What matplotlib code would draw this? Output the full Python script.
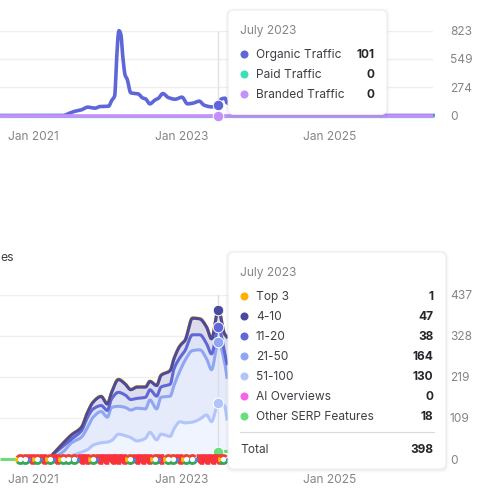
import numpy as np
import matplotlib
matplotlib.use("Agg")
import matplotlib.pyplot as plt
from matplotlib.patches import FancyBboxPatch
from matplotlib.path import Path

plt.rcParams['font.family'] = ['Inter', 'DejaVu Sans']

W, H = 483, 492
GRAY = '#858585'
DARK = '#3f3f46'
BLACK = '#26262b'

# ---- top chart data (months since Jan 2021)
traffic_months = [-5.4, 4.9, 5.7, 6.8, 7.8, 8.8, 10, 10.8, 12.2, 12.7, 13.2, 13.5, 13.8, 13.9, 14.2, 14.5, 14.9,
                  15.2, 15.8, 17, 17.7, 18.2, 18.9, 19.7, 20.3, 21, 21.9, 23, 24.1, 25, 25.9, 26.9, 27.7,
                  28.9, 30, 30.5, 31.1, 31.4, 36, 45, 55, 64.8]
organic = [0, 0, 19, 42, 55, 81, 71, 87, 90, 145, 194, 543, 801, 823, 785, 575, 388,
           355, 220, 210, 171, 161, 113, 149, 168, 213, 174, 158, 178, 113, 120, 139, 100,
           84, 101, 161, 168, 123, 90, 40, 0, 0]
flat_months = [-5.4, 64.8]
paid = [0, 0]
branded = [0, 0]
traffic_ticks = [0, 274, 549, 823]

# ---- bottom chart data (stack tops, as read)
rank_months = [3.2, 4.9, 6.2, 7.8, 8.8, 9.7, 11, 12, 12.7, 13.8, 14.9, 15.8, 16.8, 18.2, 18.9, 20, 20.7, 22.2,
               22.8, 23.8, 24.6, 25.8, 27, 28.1, 28.9, 30, 31, 31.4]
top3_top = [14, 44, 65, 85, 125, 152, 167, 147, 178, 212, 200, 185, 192, 192, 207, 196, 223, 236,
            267, 302, 316, 375, 373, 351, 320, 398, 333, 325]
r4_10_top = [13, 43, 64, 84, 124, 151, 166, 146, 177, 211, 199, 184, 191, 191, 206, 195, 222, 235,
             266, 301, 315, 374, 372, 350, 319, 397, 332, 324]
r11_20_top = [12, 35, 53, 75, 111, 133, 142, 129, 160, 177, 170, 158, 161, 164, 184, 167, 191, 199,
              239, 270, 288, 330, 330, 306, 279, 350, 284, 253]
r21_50_top = [2, 20, 43, 58, 84, 111, 126, 111, 137, 140, 137, 130, 135, 133, 157, 133, 164, 167,
              195, 235, 262, 288, 290, 266, 237, 312, 257, 217]
r51_100_top = [0, 2, 9, 18, 25, 37, 43, 45, 49, 66, 62, 57, 48, 55, 71, 51, 66, 60,
               80, 99, 96, 98, 106, 117, 99, 148, 142, 106]
other_top = [0, 0, 0, 0, 0, 0, 0, 0, 0, 0, 0, 0, 0, 0, 0, 0, 0, 0,
             0, 0, 0, 0, 0, 0, 0, 18, 20, 20]
other_flat_months = [-5.4, -3.0]
other_flat = [0, 0]
rank_ticks = [0, 109, 219, 328, 437]

google_months = [-2.2, -1.4, 0.6, 2.7, 4.8, 5.7, 6.6, 9.7, 15.7, 19.7, 21.8, 22.7, 24.8, 25.7, 30.8]
flag_months = [-0.3, 1.6, 3.7, 7.7, 8.6, 10.7, 11.7, 12.7, 13.6, 14.6, 16.6, 17.6, 18.6, 20.6, 23.7, 27, 28, 29, 30]

x_ticks = [0, 24, 48]
x_labels = ['Jan 2021', 'Jan 2023', 'Jan 2025']
hover_month = 30

tip1_title = 'July 2023'
tip1_labels = ['Organic Traffic', 'Paid Traffic', 'Branded Traffic']
tip1_values = ['101', '0', '0']
tip2_title = 'July 2023'
tip2_labels = ['Top 3', '4-10', '11-20', '21-50', '51-100', 'AI Overviews', 'Other SERP Features']
tip2_values = ['1', '47', '38', '164', '130', '0', '18']
total_label, total_value = 'Total', '398'

C_ORG, C_PAID, C_BRAND = '#5F67D8', '#3CE0B8', '#C490FA'
C_TOP3, C_4, C_11, C_21, C_51, C_AI, C_OTHER = '#FFB000', '#4A4A9E', '#6068D8', '#8FA6F2', '#B2C5FB', '#F566E6', '#6ADD7C'

fig = plt.figure(figsize=(W / 100, H / 100), dpi=100, facecolor='white')


def curve(xs, ys, n=8):
    """Monotone cubic line through the points, the way the chart rounds its lines."""
    x, y = np.asarray(xs, float), np.asarray(ys, float)
    h = np.diff(x)
    d = np.diff(y) / h
    m = np.zeros_like(y)
    m[0], m[-1] = d[0], d[-1]
    for k in range(1, len(x) - 1):
        if d[k - 1] * d[k] > 0:
            w1, w2 = 2 * h[k] + h[k - 1], h[k] + 2 * h[k - 1]
            m[k] = (w1 + w2) / (w1 / d[k - 1] + w2 / d[k])
    out_x, out_y = [], []
    for k in range(len(h)):
        t = np.linspace(0, 1, n, endpoint=False)
        a = (1 + 2 * t) * (1 - t) ** 2
        b = t * (1 - t) ** 2
        c = t ** 2 * (3 - 2 * t)
        e = t ** 2 * (t - 1)
        out_x.append(x[k] + t * h[k])
        out_y.append(a * y[k] + b * h[k] * m[k] + c * y[k + 1] + e * h[k] * m[k + 1])
    return np.append(np.concatenate(out_x), x[-1]), np.append(np.concatenate(out_y), y[-1])


def axes_px(left, right, top, bottom):
    return fig.add_axes([left / W, 1 - bottom / H, (right - left) / W, (bottom - top) / H])


def style(ax, yticks, ymax, pad_px):
    ax.set_xlim(-5.4, 64.8)
    ax.set_ylim(0, ymax)
    ax.set_xticks(x_ticks, x_labels)
    ax.set_yticks(yticks)
    ax.yaxis.tick_right()
    ax.tick_params(axis='x', length=0, pad=pad_px * 0.72, labelsize=8.6, labelcolor=GRAY)
    ax.tick_params(axis='y', length=0, pad=17 * 0.72, labelsize=8.6, labelcolor=GRAY)
    for lbl in ax.get_yticklabels():
        lbl.set_verticalalignment('center_baseline')
    for s in ax.spines.values():
        s.set_visible(False)
    ax.grid(axis='y', color='#efefef', lw=1.0)
    ax.set_axisbelow(True)
    ax.patch.set_alpha(0)


# ---- top chart
ax1 = axes_px(0, 433, 30.7, 115.5)
style(ax1, traffic_ticks, 823, 15)
ax1.plot([hover_month, hover_month], [0, 823], color='#e2e2e2', lw=1.0, zorder=2)
ax1.plot(*curve(traffic_months, organic), color=C_ORG, lw=2.6, clip_on=False, zorder=3, solid_joinstyle='round')
ax1.plot(flat_months, paid, color=C_PAID, lw=2.3, clip_on=False, zorder=3.1, solid_capstyle='butt')
ax1.plot(flat_months, branded, color=C_BRAND, lw=2.6, clip_on=False, zorder=3.2, solid_capstyle='butt')
ax1.plot([hover_month], [organic[traffic_months.index(hover_month)]], 'o', ms=7.6, mfc=C_ORG, mec='white', mew=0.7,
         clip_on=False, zorder=4)
ax1.plot([hover_month], [branded[0]], 'o', ms=7.6, mfc=C_BRAND, mec='white', mew=0.7, clip_on=False, zorder=4)

# ---- bottom chart
ax2 = axes_px(0, 433, 294.5, 459)
style(ax2, rank_ticks, 437, 15)
_, c4 = curve(rank_months, r4_10_top)
_, c11 = curve(rank_months, r11_20_top)
_, c21 = curve(rank_months, r21_50_top)
_, c51 = curve(rank_months, r51_100_top)
cx, c0 = curve(rank_months, other_top)
ax2.fill_between(cx, c11, c4, color='#dcdcec', lw=0, zorder=1.1)
ax2.fill_between(cx, c21, c11, color='#dfe3f6', lw=0, zorder=1.1)
ax2.fill_between(cx, c51, c21, color='#e6ebfb', lw=0, zorder=1.1)
ax2.fill_between(cx, c0, c51, color='#f0f4fe', lw=0, zorder=1.1)
ax2.plot([hover_month, hover_month], [0, 437], color='#dcdce4', lw=1.0, zorder=2)
for vals, col, lw in [(other_top, C_OTHER, 2.2), (r51_100_top, C_51, 2.2), (r21_50_top, C_21, 2.2),
                      (r11_20_top, C_11, 2.2), (top3_top, C_TOP3, 2.3), (r4_10_top, C_4, 2.2)]:
    ax2.plot(*curve(rank_months, vals), color=col, lw=lw, clip_on=False, zorder=3)
ax2.plot(other_flat_months, other_flat, color=C_OTHER, lw=2.2, clip_on=False, zorder=3, solid_capstyle='butt')
i = rank_months.index(hover_month)
for vals, col in [(other_top, C_OTHER), (r51_100_top, C_51), (r21_50_top, C_21), (r11_20_top, C_11), (r4_10_top, C_4)]:
    ax2.plot([hover_month], [vals[i]], 'o', ms=7.6, mfc=col, mec='white', mew=0.7, clip_on=False, zorder=4)

# annotation strip on the baseline
flag = Path([(-0.36, 0.5), (0.36, 0.5), (0.36, -0.5), (-0.02, -0.5), (-0.36, -0.18), (-0.36, 0.5)], closed=True)
ax2.scatter(flag_months, [-1] * len(flag_months), marker=flag, s=58, color='#F8333C', lw=0, clip_on=False, zorder=5)
ys_g = [-1] * len(google_months)
z = 6
for th1, th2, col in [(40, 150, '#EA4335'), (150, 215, '#FBBC05'), (215, 330, '#34A853'), (330, 380, '#4285F4')]:
    ax2.scatter(google_months, ys_g, marker=Path.wedge(th1, th2), s=62, color=col, lw=0, clip_on=False, zorder=z)
ax2.scatter(google_months, ys_g, marker='o', s=14, color='white', lw=0, clip_on=False, zorder=z + 1)

# ---- overlay in pixel coordinates for tooltips
ov = fig.add_axes([0, 0, 1, 1], zorder=20)
ov.set_xlim(0, W)
ov.set_ylim(H, 0)
ov.axis('off')
ov.patch.set_alpha(0)


def box(x0, y0, x1, y1):
    for grow, a in [(3, .012), (2, .018), (1, .025)]:
        ov.add_patch(FancyBboxPatch((x0 - grow, y0 - grow + 1), x1 - x0 + 2 * grow, y1 - y0 + 2 * grow,
                                    boxstyle='round,pad=0,rounding_size=7', fc='black', ec='none', alpha=a))
    ov.add_patch(FancyBboxPatch((x0, y0), x1 - x0, y1 - y0, boxstyle='round,pad=0,rounding_size=6',
                                fc='white', ec='#ececec', lw=0.7))


FS = 8.6
TY = 1.0
box(228, 10, 387, 114.5)
ov.text(240, 30 + TY, tip1_title, fontsize=FS, color=GRAY, va='center')
for k, (lab, val, col) in enumerate(zip(tip1_labels, tip1_values, [C_ORG, C_PAID, C_BRAND])):
    y = 54 + 20 * k
    ov.plot([244], [y], 'o', ms=5.8, mfc=col, mec='none')
    ov.text(256, y + TY, lab, fontsize=FS, color=DARK, va='center')
    ov.text(374.5, y + TY, val, fontsize=FS, color=BLACK, va='center', ha='right', fontweight='bold')

box(228, 252, 446, 469)
ov.text(240, 271.7 + TY, tip2_title, fontsize=FS, color=GRAY, va='center')
for k, (lab, val, col) in enumerate(zip(tip2_labels, tip2_values, [C_TOP3, C_4, C_11, C_21, C_51, C_AI, C_OTHER])):
    y = 295.7 + 20 * k
    ov.plot([244], [y], 'o', ms=5.8, mfc=col, mec='none')
    ov.text(256, y + TY, lab, fontsize=FS, color=DARK, va='center')
    ov.text(433.5, y + TY, val, fontsize=FS, color=BLACK, va='center', ha='right', fontweight='bold')
ov.plot([240, 434], [432, 432], color='#d9d9d9', lw=0.8)
ov.text(240, 448.7 + TY, total_label, fontsize=FS, color=DARK, va='center')
ov.text(433.5, 448.7 + TY, total_value, fontsize=FS, color=BLACK, va='center', ha='right', fontweight='bold')

ov.text(0, 258, 'es', fontsize=8.8, color=DARK, va='center')

fig.savefig('out.png', dpi=100)
